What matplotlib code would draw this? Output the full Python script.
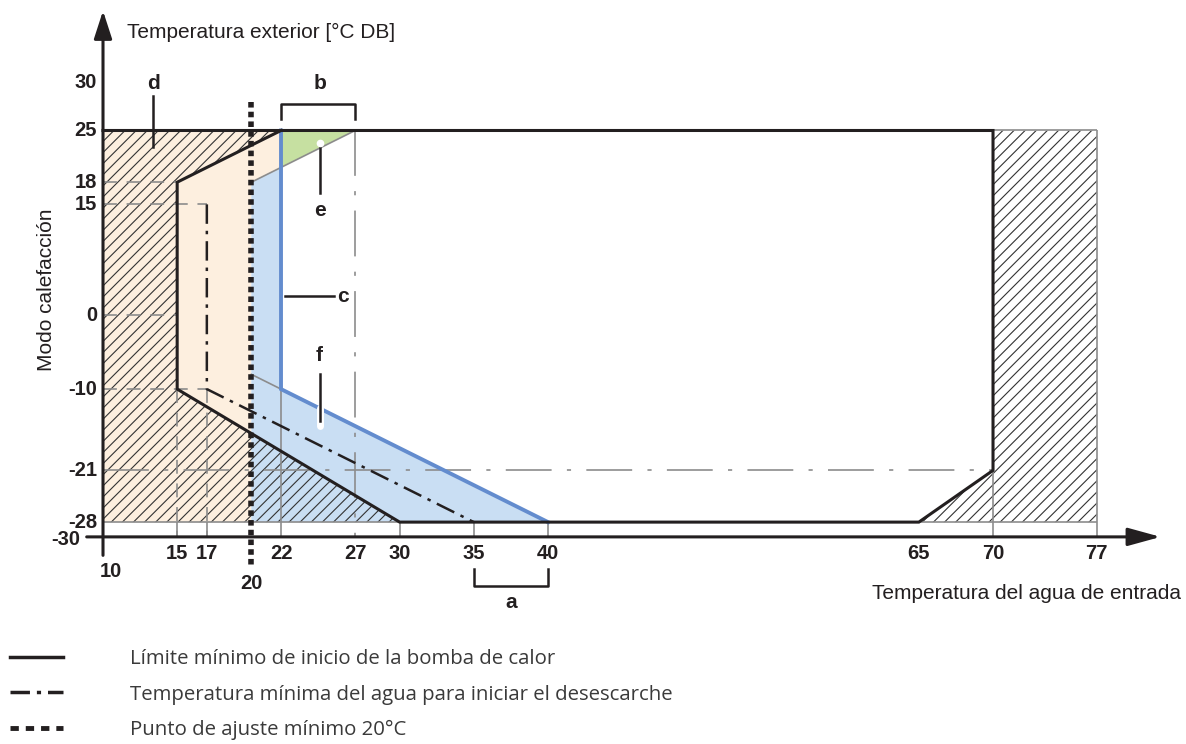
import matplotlib.pyplot as plt
from matplotlib.lines import Line2D
from matplotlib.patches import Polygon

plt.rcParams['font.family'] = ['Liberation Sans', 'DejaVu Sans']
plt.rcParams['lines.scale_dashes'] = False
plt.rcParams['hatch.linewidth'] = 0.8

# axis values
x_ticks = [10, 15, 17, 20, 22, 27, 30, 35, 40, 65, 70, 77]
y_ticks = [30, 25, 18, 15, 0, -10, -21, -28, -30]

# minimum start limit of the heat pump (solid black)
limit_x = [10, 70, 70, 65, 30, 15, 15, 22]
limit_y = [25, 25, -21, -28, -28, -10, 18, 25]

# minimum water temperature to start defrost (dash-dot)
defrost_x = [17, 17, 35]
defrost_y = [15, -10, -28]

# minimum set point
setpoint = 20

# c: blue limit line
c_x = [22, 22, 40]
c_y = [25, -10, -28]

# zones
d_x = [10, 22, 15, 15, 30, 10]
d_y = [25, 25, 18, -10, -28, -28]
right_x = [70, 77, 77, 65, 70]
right_y = [25, 25, -28, -28, -21]
tan_x = [10, 10, 22, 22, 20, 20]
tan_y = [-28, 25, 25, 20, 18, -28]
blue_x = [20, 22, 22, 40, 20]
blue_y = [18, 20, -10, -28, -28]
green_x = [22, 27, 22]
green_y = [25, 25, 20]

# thin grey helper lines
edge_e_x = [20, 27]
edge_e_y = [18, 25]
edge_f_x = [20, 22]
edge_f_y = [-8, -10]

legend_labels = ['Límite mínimo de inicio de la bomba de calor',
                 'Temperatura mínima del agua para iniciar el desescarche',
                 'Punto de ajuste mínimo 20°C']

BLACK = '#231f20'
GREY = '#8c8c8c'
BLUE = '#638cce'
LBLUE = '#c9def3'
TAN = '#fdefdf'
GREEN = '#c6e0a1'

fig = plt.figure(figsize=(11.86, 7.44), dpi=100)
ax = fig.add_axes([0, 0, 1, 1])
ax.set_xlim(3.056, 83.01)
ax.set_ylim(-58.03, 42.66)
ax.axis('off')

# fills
ax.add_patch(Polygon(list(zip(tan_x, tan_y)), closed=True, fc=TAN, ec='none', zorder=1))
ax.add_patch(Polygon(list(zip(blue_x, blue_y)), closed=True, fc=LBLUE, ec='none', zorder=1))
ax.add_patch(Polygon(list(zip(green_x, green_y)), closed=True, fc=GREEN, ec='none', zorder=1))
ax.add_patch(Polygon(list(zip(d_x, d_y)), closed=True, fill=False, hatch='///',
                     ec='#333333', lw=0, zorder=2))
ax.add_patch(Polygon(list(zip(right_x, right_y)), closed=True, fill=False, hatch='///',
                     ec='#333333', lw=0, zorder=2))

# grey helper lines
dash = (0, (10, 7))
dashdot = (0, (33, 11, 3, 11))
gkw = dict(color=GREY, lw=1.2, zorder=3)
ax.plot([10, 15], [18, 18], ls=dash, **gkw)
ax.plot([10, 15], [0, 0], ls=dash, **gkw)
ax.plot([10, 17], [15, 15], ls=dash, **gkw)
ax.plot([10, 17], [-10, -10], ls=dash, **gkw)
ax.plot([10, 70], [-21, -21], ls=dashdot, **gkw)
ax.plot([27, 27], [25, -30], ls=dashdot, **gkw)
ax.plot([15, 15], [-10, -30], ls=dash, **gkw)
ax.plot([17, 17], [-10, -30], ls=dash, **gkw)
ax.vlines([15, 17, 30, 35, 40], -30, -28, **gkw)
ax.vlines(22, -30, -10, **gkw)
ax.vlines(70, -30, -21, **gkw)
ax.vlines(77, -30, 25, **gkw)
ax.hlines(-28, 10, 30, **gkw)
ax.hlines(-28, 65, 77, **gkw)
ax.hlines(25, 70, 77, **gkw)
ax.plot(edge_e_x, edge_e_y, **gkw)
ax.plot(edge_f_x, edge_f_y, **gkw)

# main lines
ax.plot(c_x, c_y, color=BLUE, lw=2.8, zorder=4, solid_joinstyle='miter')
ax.plot(limit_x, limit_y, color=BLACK, lw=2.2, zorder=5, solid_joinstyle='miter')
ax.plot(defrost_x, defrost_y, color=BLACK, lw=1.8, ls=(0, (14, 5, 2.5, 5)), zorder=5)
ax.plot([setpoint, setpoint], [28.8, -34.2], color=BLACK, lw=4, ls=(0, (4, 3)), zorder=6)

# axes with arrows
ax.annotate('', xy=(10, 41.2), xytext=(10, -32.5),
            arrowprops=dict(arrowstyle='-|>,head_length=1.7,head_width=0.55',
                            mutation_scale=10, lw=2.2, color=BLACK,
                            shrinkA=0, shrinkB=0), zorder=7)
ax.annotate('', xy=(81.3, -30), xytext=(8.9, -30),
            arrowprops=dict(arrowstyle='-|>,head_length=2.0,head_width=0.55',
                            mutation_scale=10, lw=2.2, color=BLACK,
                            shrinkA=0, shrinkB=0), zorder=7)

# tick labels
tkw = dict(fontsize=14.5, fontweight='bold', color=BLACK)
for v in y_ticks:
    if v == 30:
        ax.text(9.6, 31.5, str(v), ha='right', va='center', **tkw)
    elif v == -30:
        ax.text(8.45, -30.3, str(v), ha='right', va='center', **tkw)
    else:
        ax.text(9.6, v, str(v), ha='right', va='center', **tkw)
for v in x_ticks:
    if v == 10:
        ax.text(10.5, -34.7, str(v), ha='center', va='center', **tkw)
    elif v == 20:
        ax.text(v, -36.3, str(v), ha='center', va='center', **tkw)
    else:
        ax.text(v, -32.25, str(v), ha='center', va='center', **tkw)

# axis titles
ax.text(11.62, 38.2, 'Temperatura exterior [°C DB]', fontsize=15, ha='left', va='center', color=BLACK)
ax.text(6.2, 3.4, 'Modo calefacción', fontsize=15, rotation=90, ha='center', va='center', color=BLACK)
ax.text(61.84, -37.6, 'Temperatura del agua de entrada', fontsize=15, ha='left', va='center', color=BLACK)

# annotations
lkw = dict(fontsize=15, fontweight='bold', color=BLACK, ha='center', va='center')
ax.plot([22, 22, 27, 27], [26.6, 28.65, 28.65, 26.6], color=BLACK, lw=1.8, zorder=6)
ax.text(24.6, 31.4, 'b', **lkw)
ax.plot([35, 35, 40, 40], [-34.3, -36.6, -36.6, -34.3], color=BLACK, lw=1.8, zorder=6)
ax.text(37.5, -38.9, 'a', **lkw)
ax.plot([13.4, 13.4], [29.7, 22.7], color=BLACK, lw=1.8, zorder=6)
ax.text(13.4, 31.4, 'd', **lkw)
ax.plot([24.6, 24.6], [23.0, 16.5], color=BLACK, lw=1.8, zorder=6)
ax.plot([24.6], [23.3], 'o', ms=4.5, mfc='white', mec='white', zorder=6)
ax.text(24.6, 14.2, 'e', **lkw)
ax.plot([22.3, 25.6], [2.55, 2.55], color=BLACK, lw=1.8, zorder=6)
ax.text(25.8, 2.55, 'c', fontsize=15, fontweight='bold', color=BLACK, ha='left', va='center')
ax.plot([24.6, 24.6], [-12.6, -15.0], color='white', lw=5, solid_capstyle='round', zorder=6)
ax.plot([24.6, 24.6], [-7.9, -14.3], color=BLACK, lw=1.8, zorder=6)
ax.text(24.6, -5.45, 'f', **lkw)

# legend
handles = [Line2D([], [], color=BLACK, lw=2.5),
           Line2D([], [], color=BLACK, lw=2.5, ls=(0, (14, 5, 3, 5))),
           Line2D([], [], color=BLACK, lw=3.5, ls=(0, (6, 5)))]
leg = ax.legend(handles, legend_labels, loc='upper left',
                bbox_to_anchor=(10 / 1186, 1 - 649 / 744), bbox_transform=fig.transFigure,
                frameon=False, borderpad=0, borderaxespad=0,
                handlelength=2.6, handletextpad=3.3, labelspacing=0.76,
                prop={'family': 'Open Sans', 'size': 14.7})
for t in leg.get_texts():
    t.set_color('#3a3a3a')

fig.savefig('out.png', dpi=100)
